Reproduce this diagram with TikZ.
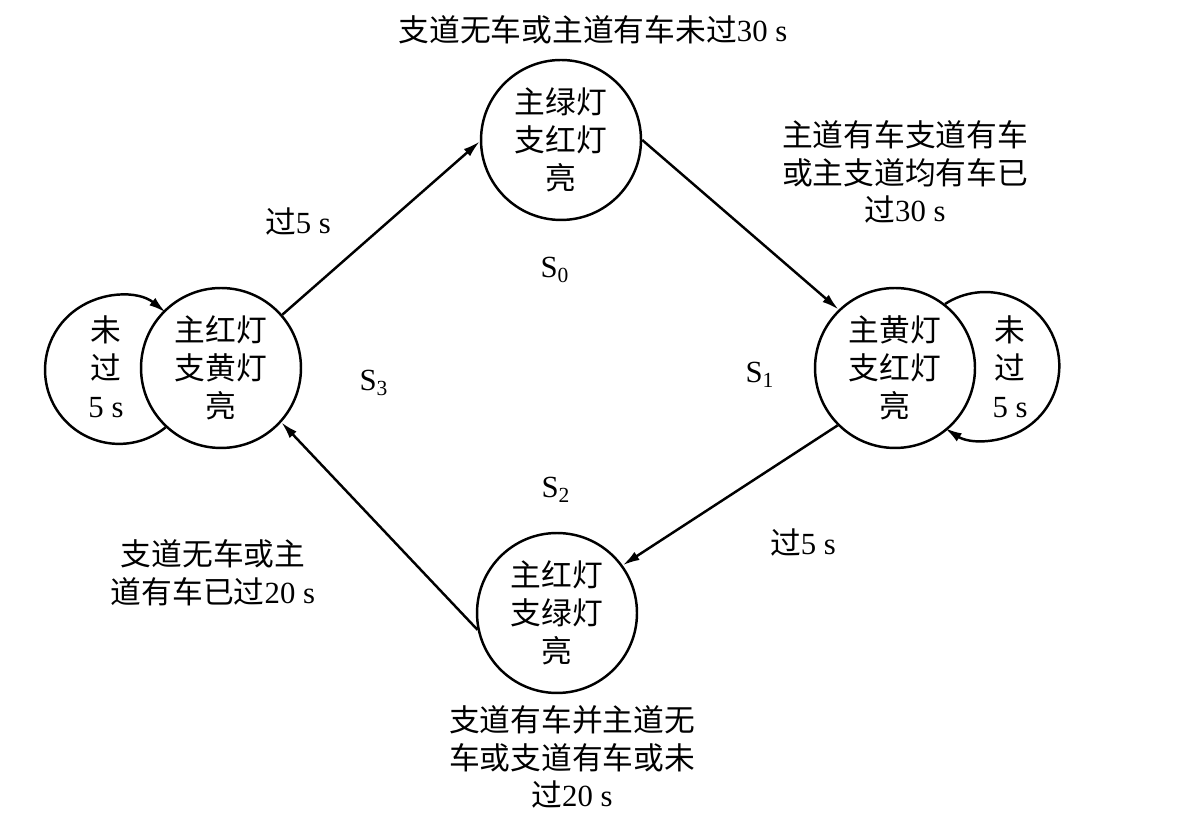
\documentclass[tikz,border=0pt]{standalone}
\usepackage{fontspec}
\setmainfont{Liberation Serif}
\newfontfamily\cjk{Noto Sans CJK SC}
\usetikzlibrary{arrows.meta}
\newcommand\zh[1]{{\cjk #1}}
\tikzset{
  flow/.style={-{Latex[length=3.4mm,width=1.9mm]},line width=1.4pt},
  state/.style={circle,draw,line width=1.4pt,minimum size=3.2cm,inner sep=0pt,
    align=center,font=\cjk\fontsize{17.5}{21.5}\selectfont},
  labeltext/.style={align=center,font=\fontsize{17.5}{21.5}\selectfont}
}

\begin{document}
\begin{tikzpicture}[x=.02cm,y=.02cm]
\useasboundingbox (0,0) rectangle (1195,813);
% states
\node[state] (s0) at (561,673) {主绿灯\\支红灯\\亮};
\node[state] (s1) at (895,445) {主黄灯\\支红灯\\亮};
\node[state] (s2) at (557,200) {主红灯\\支绿灯\\亮};
\node[state] (s3) at (221,445) {主红灯\\支黄灯\\亮};
% transitions
\draw[flow] (s3.41) -- (s0.181);
\draw[flow] (s0.0) -- (s1.134);
\draw[flow] (s1.225) -- (s2.36);
\draw[flow] (s2.192) -- (s3.318);
% self loops
\draw[flow] (s3.227) arc[start angle=-51,end angle=-309,radius=74];
\draw[flow] (s1.52) arc[start angle=123,end angle=-123,radius=74];
% labels
\node[labeltext] (top) at (593,783) {\zh{支道无车或主道有车未过}30 s};
\node[labeltext] (right) at (905,641) {\zh{主道有车支道有车}\\\zh{或主支道均有车已}\\\zh{过}30 s};
\node[labeltext] (go3) at (298,591) {\zh{过}5 s};
\node[labeltext] (go1) at (803,270) {\zh{过}5 s};
\node[labeltext] (left) at (213,240) {\zh{支道无车或主}\\\zh{道有车已过}20 s};
\node[labeltext] (bottom) at (572,56) {\zh{支道有车并主道无}\\\zh{车或支道有车或未}\\\zh{过}20 s};
\node[labeltext] (wait3) at (106,446) {\zh{未}\\\zh{过}\\5 s};
\node[labeltext] (wait1) at (1010,446) {\zh{未}\\\zh{过}\\5 s};
\node[labeltext] (n0) at (555,543) {S\textsubscript{0}};
\node[labeltext] (n1) at (760,438) {S\textsubscript{1}};
\node[labeltext] (n2) at (556,323) {S\textsubscript{2}};
\node[labeltext] (n3) at (374,430) {S\textsubscript{3}};
\end{tikzpicture}
\end{document}
